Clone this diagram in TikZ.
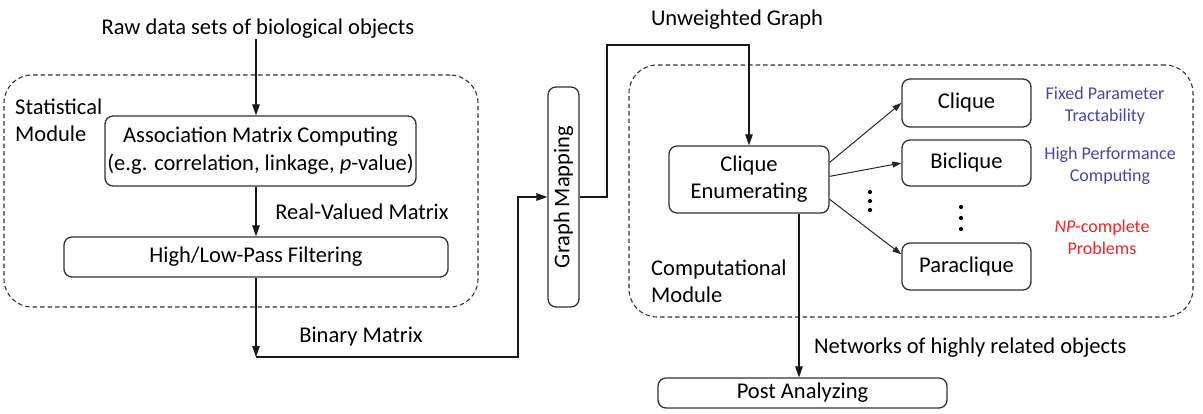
\documentclass[tikz,border=0pt]{standalone}
\usepackage{fontspec}
\setmainfont{Carlito}
\usetikzlibrary{arrows.meta,calc}
\definecolor{bluelab}{RGB}{70,70,175}
\definecolor{redlab}{RGB}{235,40,40}
\begin{document}
\begin{tikzpicture}[x=1pt,y=-1pt,
  font=\fontsize{22.5}{27}\selectfont,
  box/.style={draw=black!80,line width=1.3pt,rounded corners=8pt,inner sep=0pt,align=center},
  module/.style={draw=black!80,line width=1.1pt,dash pattern=on 4.5pt off 3pt,rounded corners=28pt,inner sep=0pt},
  arr/.style={draw=black!90,line width=1.2pt,-{Triangle[length=11pt,width=7.5pt]}},
  thinarr/.style={draw=black!85,line width=1pt,-{Triangle[length=9pt,width=6pt]}},
  lab/.style={inner sep=0pt,align=center},
  bluetxt/.style={lab,text=bluelab,font=\fontsize{18}{22}\selectfont},
  redtxt/.style={lab,text=redlab,font=\fontsize{18}{22}\selectfont},
  dot/.style={fill=black}
]
\useasboundingbox (0,0) rectangle (1203,414);
% modules
\node[module,minimum width=474pt,minimum height=232pt] (stat) at (241,191) {};
\node[module,minimum width=564pt,minimum height=252pt] (comp) at (911,191) {};
% labels of modules
\node[lab,align=left,anchor=west,font=\fontsize{22.5}{27}\selectfont] (statlab) at (15,120) {Statistical\\Module};
\node[lab,align=left,anchor=west,font=\fontsize{22.5}{27}\selectfont] (complab) at (651,281) {Computational\\Module};
% statistical part
\node[lab] (raw) at (258,29) {Raw data sets of biological objects};
\node[box,minimum width=311pt,minimum height=70pt,font=\fontsize{22.5}{28}\selectfont] (assoc) at (260.5,151) {Association Matrix Computing\\(e.g. correlation, linkage, \textit{p}-value)};
\node[box,minimum width=384pt,minimum height=40pt] (hl) at (256,257) {High/Low-Pass Filtering};
\node[lab] (rvm) at (362,212) {Real-Valued Matrix};
\node[lab] (bm) at (361,337) {Binary Matrix};
\coordinate (c1) at (518,357);
\coordinate (c0) at (256,357);
% graph mapping
\node[box,minimum width=31pt,minimum height=220pt] (gm) at (563.5,197) {};
\node[lab,rotate=90] (gmtxt) at (gm.center) {Graph Mapping};
\node[lab] (ug) at (737,20) {Unweighted Graph};
\coordinate (c2) at (607,45);
% computational part
\node[box,minimum width=160pt,minimum height=67pt,font=\fontsize{22.5}{27}\selectfont] (ce) at (749,179.5) {Clique\\Enumerating};
\node[box,minimum width=129pt,minimum height=48pt] (clique) at (966.5,103) {Clique};
\node[box,minimum width=129pt,minimum height=46pt] (biclique) at (966.5,163) {Biclique};
\node[box,minimum width=129pt,minimum height=47pt] (para) at (966.5,266.5) {Paraclique};
\node[bluetxt] (fpt) at (1105,106) {Fixed Parameter\\Tractability};
\node[bluetxt] (hpc) at (1110,166) {High Performance\\Computing};
\node[redtxt] (npc) at (1102,237) {\textit{NP}-complete\\Problems};
\node[box,minimum width=289pt,minimum height=30pt] (post) at (802.5,393) {Post Analyzing};
\node[lab,anchor=west] (net) at (814,348) {Networks of highly related objects};
% dots
\foreach \y in {192,201,210} \fill[dot] (870,\y) circle (2.1pt);
\foreach \y in {207,218,229} \fill[dot] (961,\y) circle (2.1pt);
% connectors
\draw[arr] (raw.south -| 256,0) -- (assoc.north -| 256,0);
\draw[arr] (assoc.south -| 256,0) -- (hl.north -| 256,0);
\draw[arr] (hl.south -| 256,0) -- (c0);
\draw[arr] (c0) -- (c1) |- (gm.west);
\draw[arr] (gm.east) -| (c2) -| (ce.north);
\draw[thinarr] ($(ce.north east)+(0,17)$) -- (clique.west);
\draw[thinarr] ($(ce.north east)+(0,31)$) -- (biclique.west);
\draw[thinarr] ($(ce.north east)+(0,54)$) -- ($(para.north west)+(0,12)$);
\draw[arr] (ce.south -| 799,0) -- (post.north -| 799,0);
\end{tikzpicture}
\end{document}
